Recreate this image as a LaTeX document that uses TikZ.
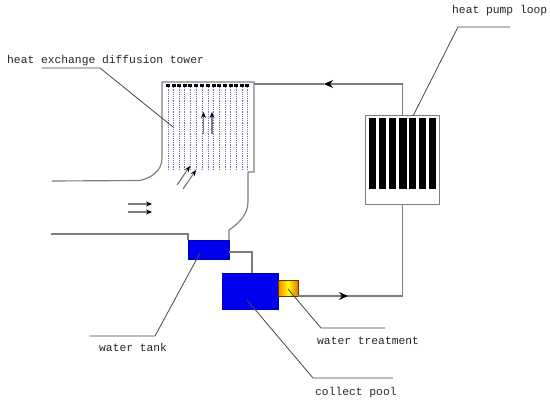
\documentclass[tikz,border=0pt]{standalone}
\usepackage{fontspec}
\setmonofont{Liberation Mono}
\usetikzlibrary{arrows.meta}
\definecolor{pipegray}{RGB}{125,125,125}
\definecolor{leadgray}{RGB}{70,70,70}
\definecolor{tankblue}{RGB}{0,0,240}
\definecolor{spray}{RGB}{110,110,185}
\tikzset{
  pipe/.style    = {draw=pipegray, line width=1.15pt},
  lead/.style    = {draw=leadgray, line width=0.8pt},
  flow/.style    = {draw=pipegray, line width=1.2pt, -{Stealth[length=6pt,width=5pt,color=black]}},
  bigflow/.style = {draw=pipegray, line width=1.15pt, -{Stealth[length=9pt,width=8pt,color=black]}},
  tank/.style    = {fill=tankblue, draw=tankblue!70!black, line width=0.4pt, inner sep=0pt, outer sep=0pt},
  lbl/.style     = {font=\ttfamily\fontsize{11.3}{13}\selectfont, inner sep=0pt, anchor=west, text=black!85},
  bar/.style     = {fill=black, inner sep=0pt, outer sep=0pt, minimum width=7.2pt, minimum height=71pt},
  nozzle/.style  = {fill=black, inner sep=0pt, minimum width=4pt, minimum height=3pt},
}
\begin{document}
\begin{tikzpicture}[x=1pt, y=-1pt, >=Stealth]
  \useasboundingbox (0,0) rectangle (550,407);

  % ===== tanks ==========================================================
  \node[tank, minimum width=41pt, minimum height=19pt] (wtank) at (208.5,249.5) {};
  \node[tank, minimum width=56pt, minimum height=36pt] (pool)  at (250.5,291) {};
  \node[draw=black!60!orange, line width=0.6pt, inner sep=0pt, outer sep=0pt,
        minimum width=20pt, minimum height=16pt,
        left color=orange, right color=orange!90!black, middle color=yellow]
                                                      (treat) at (288,288) {};
  \draw[pipe] ([yshift=-2.5pt]wtank.east) -| ([xshift=1.5pt]pool.north);

  % ===== tower ==========================================================
  \coordinate (towerNW) at (162,82);
  \coordinate (towerNE) at (254,82);
  \coordinate (towerSE) at (254,172);
  \coordinate (inUpper) at (52,181);
  \coordinate (inLower) at (51,234);
  \draw[pipe] (inUpper) -- (140,180.5) .. controls (150,178) and (162,172) .. (162,158)
    -- (towerNW) -- (towerNE) -- (towerSE) -- (248,172) -- (248,202)
    .. controls (248,215) and (238,224) .. (229,230) -- (wtank.north east);
  \draw[pipe] (inLower) -| (wtank.north west);

  % ===== spray lines ====================================================
  \foreach \i/\x in {1/168,2/173.5,3/179,4/184.5,5/190,6/196,7/202,8/208,9/213.5,10/219,11/225,12/230.5,13/236,14/242,15/247}{
    \node[nozzle] (noz\i) at (\x,85.5) {};
    \coordinate (dry\i) at (\x,170);
    \draw[spray, line width=1pt, dash pattern=on 1.2pt off 1pt] (noz\i) -- (dry\i);
  }

  % ===== air arrows =====================================================
  \foreach \i/\ax/\ay/\bx/\by in {1/128/204/152/204, 2/128/212/152/212, 3/177/185/190/166,
                                  4/183/189/196/170, 5/203.5/134/203.5/112, 6/212/134/212/112}{
    \coordinate (airA\i) at (\ax,\ay);
    \coordinate (airB\i) at (\bx,\by);
    \draw[flow] (airA\i) -- (airB\i);
  }

  % ===== heat pump ======================================================
  \node[draw=pipegray, line width=1.15pt, inner sep=0pt, outer sep=0pt, fill=white,
        minimum width=74pt, minimum height=89pt] (pump) at (402.5,160) {};
  \foreach \i/\x in {1/372.5,2/382.5,3/392.5,4/403,5/412.5,6/422.5,7/432.5}{
    \node[bar] (bar\i) at (\x,153.5) {};
  }

  % ===== loop ===========================================================
  \coordinate (midTop) at (324,84);
  \coordinate (midBot) at (348,296);
  \draw[pipe] (pump.south) |- (treat.south east);
  \draw[bigflow] (treat.south east) -- (midBot);
  \draw[bigflow] (pump.north) |- (midTop);
  \draw[pipe] (midTop) -- (midTop -| towerNE);

  % ===== labels =========================================================
  \node[lbl] (ltower) at (7,60.5)  {heat exchange diffusion tower};
  \node[lbl] (lpump)  at (452,11)  {heat pump loop};
  \node[lbl] (ltank)  at (99,347)  {water tank};
  \node[lbl] (ltreat) at (317,341) {water treatment};
  \node[lbl] (lpool)  at (315,393) {collect pool};

  % ===== leaders ========================================================
  \foreach \n/\ax/\ay/\bx/\by/\cx/\cy in {tw/41.5/68/100/68/173/127, pu/413/116/458/27/510/27,
                                          ta/200/253/155/336/90/336, tr/288/289/321/328/385/328,
                                          po/247/300/313/378/393/378}{
    \coordinate (\n A) at (\ax,\ay);
    \coordinate (\n B) at (\bx,\by);
    \coordinate (\n C) at (\cx,\cy);
    \draw[lead] (\n A) -- (\n B) -- (\n C);
  }
\end{tikzpicture}
\end{document}
